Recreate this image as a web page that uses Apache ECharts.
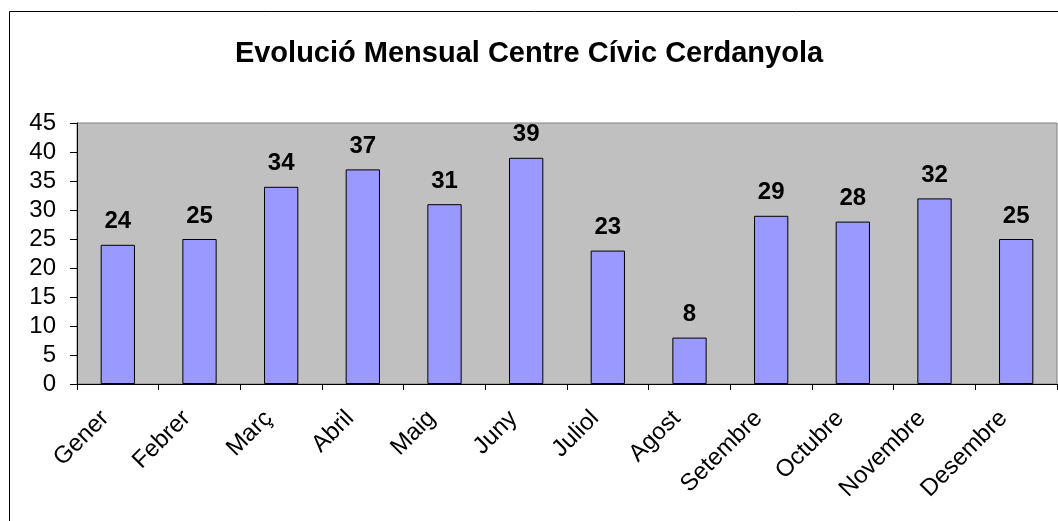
<!DOCTYPE html>
<html>
<head>
<meta charset="utf-8">
<script src="https://cdn.jsdelivr.net/npm/echarts@6/dist/echarts.min.js"></script>
<style>
	html,body{margin:0;padding:0;background:#fff;}
	#chart{width:1058px;height:521px;}
</style>
</head>
<body>
<div id="chart"></div>
<script>
var months = ["Gener","Febrer","Març","Abril","Maig","Juny","Juliol","Agost","Setembre","Octubre","Novembre","Desembre"];
var visits = [24,25,34,37,31,39,23,8,29,28,32,25];
var titleText = "Evolució Mensual Centre Cívic Cerdanyola";

var chart = echarts.init(document.getElementById("chart"));
chart.setOption({
	backgroundColor:"#fff",
	animation:false,
	title:{
		text:titleText,
		left:"center",
		top:34,
		textStyle:{fontFamily:"Liberation Sans, Arial",fontSize:29,fontWeight:"bold",color:"#000"}
	},
	graphic:[{
		type:"rect",
		shape:{x:9.5,y:11.5,width:1060,height:520},
		style:{fill:null,stroke:"#000",lineWidth:1}
	}],
	grid:{
		left:77,top:123,right:1,bottom:137,
		show:true,
		backgroundColor:"#C0C0C0",
		borderColor:"#808080",
		borderWidth:1
	},
	xAxis:{
		type:"category",
		data:months,
		axisLine:{lineStyle:{color:"#000"}},
		axisTick:{show:true,length:6,lineStyle:{color:"#000"}},
		axisLabel:{
			rotate:45,
			margin:18,
			padding:[0,18,0,0],
			fontFamily:"Liberation Sans, Arial",
			fontSize:24,
			color:"#000"
		}
	},
	yAxis:{
		type:"value",
		min:0,max:45,interval:5,
		splitLine:{show:false},
		axisLine:{show:true,lineStyle:{color:"#000"}},
		axisTick:{show:true,length:7,lineStyle:{color:"#000"}},
		axisLabel:{
			margin:21,
			fontFamily:"Liberation Sans, Arial",
			fontSize:24,
			color:"#000"
		}
	},
	series:[{
		type:"bar",
		data:visits,
		barWidth:"42%",
		itemStyle:{color:"#9999FF",borderColor:"#000",borderWidth:1},
		label:{
			show:true,
			position:"top",
			distance:11,
			fontFamily:"Liberation Sans, Arial",
			fontSize:24,
			fontWeight:"bold",
			color:"#000"
		}
	}]
});
</script>
</body>
</html>
